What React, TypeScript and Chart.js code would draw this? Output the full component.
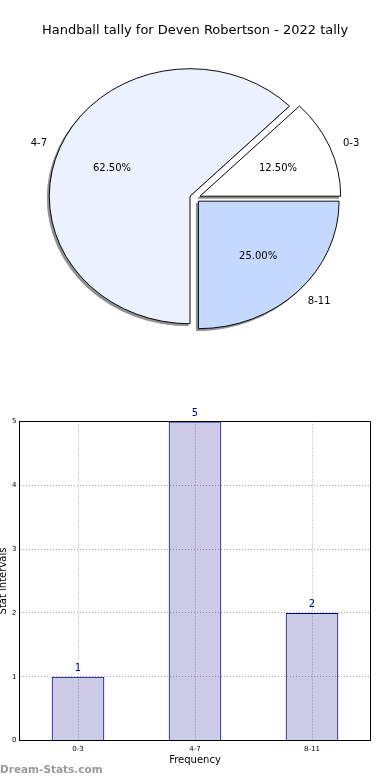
import React, { useEffect, useRef } from "react";
import { Chart, registerables } from "chart.js";

Chart.register(...registerables);

// ---------- data ----------
const pieTitle = "Handball tally for Deven Robertson - 2022 tally";
const pieLabels = ["8-11", "4-7", "0-3"];
const pieValues = [2, 5, 1];
const pieColors = ["#c5d9fe", "#ebf1fe", "#ffffff"];
const pieExplode = [4.8, 5.4, 5.4];

const barCategories = ["0-3", "4-7", "8-11"];
const barValues = [1, 5, 2];
const yMin = 0;
const yMax = 5;
const yStep = 1;
const xTitle = "Frequency";
const yTitle = "Stat intervals";
const watermark = "Dream-Stats.com";

// ---------- styles ----------
const FONT = "'DejaVu Sans', sans-serif";
Chart.defaults.font.family = FONT;
const ELLIPSE_K = 127.5 / 140.7;
const PIE_RADIUS = 140.7;
const SHADOW = "#909090";
const SHADOW_DX = -2;
const SHADOW_DY = 2;
const NAVY = "#000080";
const GRID = "#a8a8a8";
const TEXT_DY = 1;

const piePlugin = {
  id: "pieEllipse",
  beforeDatasetsDraw(chart: any) {
    const ctx = chart.ctx;
    const arcs = chart.getDatasetMeta(0).data as any[];
    if (!arcs.length) return false;
    const cx = arcs[0].x;
    const cy = arcs[0].y;
    const pass = (shadow: boolean) => {
      arcs.forEach((arc, i) => {
        const mid = (arc.startAngle + arc.endAngle) / 2;
        const d = pieExplode[i];
        ctx.save();
        if (shadow) ctx.translate(SHADOW_DX, SHADOW_DY);
        ctx.translate(cx, cy);
        ctx.scale(1, ELLIPSE_K);
        ctx.translate(-cx, -cy);
        ctx.translate(Math.cos(mid) * d, Math.sin(mid) * d);
        if (shadow) {
          const saved = arc.options;
          const o = Object.create(saved);
          o.backgroundColor = SHADOW;
          o.borderColor = SHADOW;
          arc.options = o;
          arc.draw(ctx);
          arc.options = saved;
        } else {
          arc.draw(ctx);
        }
        ctx.restore();
      });
    };
    pass(true);
    pass(false);
    return false;
  },
  afterDraw(chart: any) {
    const ctx = chart.ctx;
    const arcs = chart.getDatasetMeta(0).data as any[];
    const total = pieValues.reduce((a, b) => a + b, 0);
    ctx.save();
    ctx.fillStyle = "#000";
    ctx.font = `10px ${FONT}`;
    ctx.textBaseline = "middle";
    arcs.forEach((arc, i) => {
      const mid = (arc.startAngle + arc.endAngle) / 2;
      const c = Math.cos(mid);
      const s = Math.sin(mid);
      const d = pieExplode[i];
      const R = arc.outerRadius;
      const vx = arc.x + c * d;
      const vy = arc.y + s * d * ELLIPSE_K + TEXT_DY;
      ctx.textAlign = c >= 0 ? "left" : "right";
      ctx.fillText(pieLabels[i], vx + c * 1.1 * R, vy + s * 1.1 * R * ELLIPSE_K);
      ctx.textAlign = "center";
      ctx.fillText(
        ((pieValues[i] / total) * 100).toFixed(2) + "%",
        vx + c * 0.6 * R,
        vy + s * 0.6 * R * ELLIPSE_K
      );
    });
    ctx.restore();
  },
};

const barPlugin = {
  id: "barExtras",
  afterDraw(chart: any) {
    const ctx = chart.ctx;
    const area = chart.chartArea;
    ctx.save();
    // frame top & right
    ctx.strokeStyle = "#000";
    ctx.lineWidth = 1;
    ctx.beginPath();
    ctx.moveTo(area.left, area.top);
    ctx.lineTo(area.right, area.top);
    ctx.lineTo(area.right, area.bottom);
    ctx.stroke();
    // value labels
    const meta = chart.getDatasetMeta(0);
    ctx.fillStyle = NAVY;
    ctx.font = `10px ${FONT}`;
    ctx.textAlign = "center";
    ctx.textBaseline = "alphabetic";
    meta.data.forEach((bar: any, i: number) => {
      ctx.fillText(String(barValues[i]), bar.x, bar.y - 6);
    });
    // watermark
    ctx.fillStyle = "#9a9a9a";
    ctx.font = `bold 10.5px ${FONT}`;
    ctx.textAlign = "left";
    ctx.textBaseline = "middle";
    ctx.fillText(watermark, 0, 380);
    ctx.restore();
  },
};

export default function App() {
  const pieRef = useRef<HTMLCanvasElement>(null);
  const barRef = useRef<HTMLCanvasElement>(null);

  useEffect(() => {
    document.body.style.margin = "0";
    const pie = new Chart(pieRef.current as HTMLCanvasElement, {
      type: "pie",
      data: {
        labels: pieLabels,
        datasets: [
          {
            data: pieValues,
            backgroundColor: pieColors,
            borderColor: "#000",
            borderWidth: 1,
            borderJoinStyle: "miter",
          } as any,
        ],
      },
      options: {
        animation: false,
        responsive: false,
        events: [],
        rotation: 90,
        radius: PIE_RADIUS,
        layout: { padding: { top: 0, left: 0, right: 0, bottom: 32.4 } },
        plugins: {
          legend: { display: false },
          tooltip: { enabled: false },
          title: {
            display: true,
            text: pieTitle,
            color: "#000",
            font: { size: 13, weight: "normal", family: FONT },
            padding: { top: 23, bottom: 0 },
          },
        },
      } as any,
      plugins: [piePlugin],
    });

    const bar = new Chart(barRef.current as HTMLCanvasElement, {
      type: "bar",
      data: {
        labels: barCategories,
        datasets: [
          {
            data: barValues,
            backgroundColor: "rgba(0,0,128,0.2)",
            borderColor: NAVY,
            borderWidth: 1,
            barPercentage: 0.45,
            categoryPercentage: 1,
          },
        ],
      },
      options: {
        animation: false,
        responsive: false,
        events: [],
        layout: { padding: { top: 31.5, right: 19.5, left: 0, bottom: 0 } },
        plugins: { legend: { display: false }, tooltip: { enabled: false } },
        scales: {
          x: {
            z: 1,
            grid: { offset: false, color: GRID, lineWidth: 1, drawTicks: false },
            border: { display: true, color: "#000", width: 1, dash: [1, 2] },
            ticks: { font: { size: 7 }, color: "#000", padding: 4 },
            title: {
              display: true,
              text: xTitle,
              color: "#000",
              font: { size: 10 },
              padding: { top: 0, bottom: 14 },
            },
            afterFit: (s: any) => {
              s.height = 39.5;
            },
          },
          y: {
            z: 1,
            min: yMin,
            max: yMax,
            ticks: { stepSize: yStep, font: { size: 7 }, color: "#000", padding: 3 },
            grid: { color: GRID, lineWidth: 1, drawTicks: false },
            border: { display: true, color: "#000", width: 1, dash: [1, 2] },
            title: {
              display: true,
              text: yTitle,
              color: "#000",
              font: { size: 10 },
              padding: { top: -2.5, bottom: 0 },
            },
            afterFit: (s: any) => {
              s.width = 19.5;
            },
          },
        },
      } as any,
      plugins: [barPlugin],
    });

    return () => {
      pie.destroy();
      bar.destroy();
    };
  }, []);

  return (
    <div style={{ position: "relative", width: 390, height: 780, background: "#fff" }}>
      <canvas
        ref={pieRef}
        width={390}
        height={390}
        style={{ position: "absolute", left: 0, top: 0 }}
      />
      <canvas
        ref={barRef}
        width={390}
        height={390}
        style={{ position: "absolute", left: 0, top: 390 }}
      />
    </div>
  );
}
